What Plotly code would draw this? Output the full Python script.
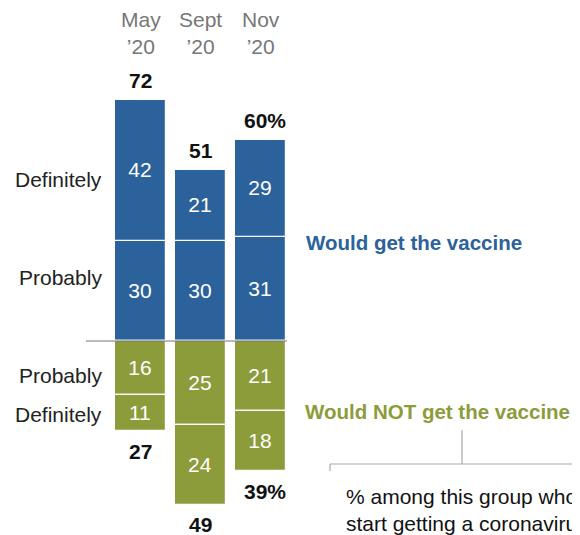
import plotly.graph_objects as go

months = ["May<br>’20", "Sept<br>’20", "Nov<br>’20"]
xpos = [0, 1, 2]
would_definitely = [42, 21, 29]
would_probably = [30, 30, 31]
not_probably = [16, 25, 21]
not_definitely = [11, 24, 18]
would_total = ["72", "51", "60%"]
not_total = ["27", "49", "39%"]

BLUE = "#2B629C"
GREEN = "#8C9C3B"
OFF = 8  # page body margin
W, H = 580, 535 - OFF
PX_PER_UNIT = 3.345
Y0_PX = 341
X0_PX = 140.5
X_STEP = 60
FONT = "Liberation Sans"

fig = go.Figure()

def add_bar(vals, color, sign):
    fig.add_trace(go.Bar(
        x=xpos, y=[sign * v for v in vals], width=0.85,
        marker=dict(color=color, line=dict(color="white", width=1.2)),
        text=[str(v) for v in vals], textposition="inside",
        insidetextanchor="middle", constraintext="none",
        textfont=dict(color="white", size=21, family=FONT),
        hoverinfo="skip", showlegend=False,
    ))

add_bar(would_probably, BLUE, 1)
add_bar(would_definitely, BLUE, 1)
add_bar(not_probably, GREEN, -1)
add_bar(not_definitely, GREEN, -1)

def px_to_x(px):
    return (px - X0_PX) / X_STEP

def py_to_y(py):
    return (Y0_PX - py) / PX_PER_UNIT

anns = []
for x, m in zip(xpos, months):
    anns.append(dict(x=x, y=py_to_y(33), xref="x", yref="y", text=m,
                     showarrow=False, font=dict(size=21, color="#777777", family=FONT),
                     xanchor="center", yanchor="middle"))
for i, x in enumerate(xpos):
    top = would_probably[i] + would_definitely[i]
    bot = -(not_probably[i] + not_definitely[i])
    anns.append(dict(x=x + (0.08 if "%" in would_total[i] else 0), y=top, xref="x", yref="y",
                     text="<b>%s</b>" % would_total[i], showarrow=False,
                     font=dict(size=21, color="#111111", family=FONT),
                     xanchor="center", yanchor="middle", yshift=20))
    anns.append(dict(x=x + (0.08 if "%" in not_total[i] else 0), y=bot, xref="x", yref="y",
                     text="<b>%s</b>" % not_total[i], showarrow=False,
                     font=dict(size=21, color="#111111", family=FONT),
                     xanchor="center", yanchor="middle", yshift=-20))

for label, py in [("Definitely", 179), ("Probably", 277), ("Probably", 375), ("Definitely", 414)]:
    anns.append(dict(x=px_to_x(104), y=py_to_y(py), xref="x", yref="y", text=label,
                     showarrow=False, font=dict(size=21, color="#222222", family=FONT),
                     xanchor="right", yanchor="middle"))

anns.append(dict(x=px_to_x(304), y=py_to_y(242), xref="x", yref="y",
                 text="<b>Would get the vaccine</b>", showarrow=False,
                 font=dict(size=20.5, color=BLUE, family=FONT),
                 xanchor="left", yanchor="middle"))
anns.append(dict(x=px_to_x(303), y=py_to_y(411), xref="x", yref="y",
                 text="<b>Would NOT get the vaccine</b>", showarrow=False,
                 font=dict(size=20.5, color=GREEN, family=FONT),
                 xanchor="left", yanchor="middle"))
anns.append(dict(x=px_to_x(344), y=py_to_y(483), xref="x", yref="y",
                 text="% among this group who would<br>start getting a coronavirus vaccine",
                 showarrow=False, align="left",
                 font=dict(size=21, color="#111111", family=FONT),
                 xanchor="left", yanchor="top"))

shapes = [
    dict(type="line", xref="x", yref="y", x0=px_to_x(86), x1=px_to_x(287), y0=0, y1=0,
         line=dict(color="#777777", width=1.2), layer="above"),
    dict(type="line", xref="x", yref="y", x0=px_to_x(462), x1=px_to_x(462),
         y0=py_to_y(430), y1=py_to_y(464), line=dict(color="#AAAAAA", width=1.2)),
    dict(type="line", xref="x", yref="y", x0=px_to_x(330), x1=px_to_x(600),
         y0=py_to_y(464), y1=py_to_y(464), line=dict(color="#AAAAAA", width=1.2)),
    dict(type="line", xref="x", yref="y", x0=px_to_x(330), x1=px_to_x(330),
         y0=py_to_y(464), y1=py_to_y(471), line=dict(color="#AAAAAA", width=1.2)),
]

fig.update_layout(
    width=W, height=H, margin=dict(l=0, r=0, t=0, b=0),
    barmode="relative", bargap=0,
    plot_bgcolor="white", paper_bgcolor="white",
    xaxis=dict(range=[px_to_x(OFF), px_to_x(OFF + W)], visible=False, fixedrange=True),
    yaxis=dict(range=[py_to_y(OFF + H), py_to_y(OFF)], visible=False, fixedrange=True),
    annotations=anns, shapes=shapes,
)

fig.write_html("out.html")
